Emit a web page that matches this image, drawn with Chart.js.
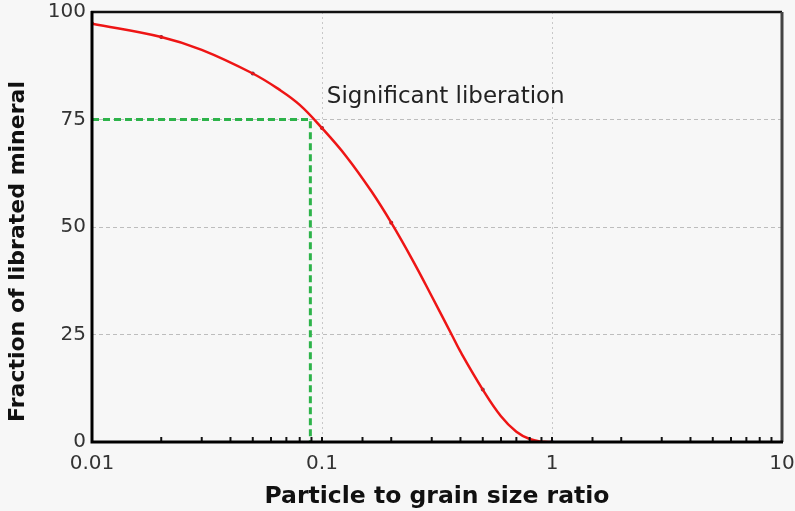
<!DOCTYPE html>
<html>
<head>
<meta charset="utf-8">
<script src="https://cdn.jsdelivr.net/npm/chart.js@4"></script>
<style>
  html, body { margin: 0; padding: 0; background: #f7f7f7; }
  canvas { display: block; }
</style>
</head>
<body>
<canvas id="liberation" width="795" height="511"></canvas>
<script>
// liberation curve, read at a set of size ratios
var curveX = [0.01, 0.02, 0.03, 0.05, 0.065, 0.08, 0.1, 0.128, 0.164, 0.2, 0.25, 0.3, 0.366, 0.4, 0.5, 0.6, 0.7, 0.8, 0.9, 1];
var curveY = [97.3, 94.2, 91.2, 85.7, 82.0, 78.4, 73.0, 66.3, 58.3, 51.0, 41.9, 33.9, 25.0, 21.0, 12.2, 6.0, 2.4, 0.7, 0.1, 0];

// measured points sitting on the curve
var pointX = [0.01, 0.02, 0.05, 0.1, 0.2, 0.5, 1];
var pointY = [97.3, 94.2, 85.7, 73.0, 51.0, 12.2, 0];

// 75% guide
var guideX = [0.01, 0.089, 0.089];
var guideY = [75, 75, 0];

var xTickLabels = [0.01, 0.1, 1, 10];
var yTicks = [0, 25, 50, 75, 100];

var FONT = '"DejaVu Sans", Verdana, sans-serif';

function toPoints(xs, ys) {
    return xs.map(function (v, i) { return {x: v, y: ys[i]}; });
}

var chartPlugin = {
    id: 'frameAndNotes',
    beforeDraw: function (chart) {
        var ctx = chart.ctx;
        ctx.save();
        ctx.fillStyle = '#f7f7f7';
        ctx.fillRect(0, 0, chart.width, chart.height);
        ctx.restore();
    },
    afterDatasetsDraw: function (chart) {
        var ctx = chart.ctx;
        var a = chart.chartArea;
        var x = chart.scales.x;
        var y = chart.scales.y;
        ctx.save();

        // small inward ticks along the bottom
        ctx.strokeStyle = '#111';
        ctx.lineWidth = 2;
        x.ticks.forEach(function (t) {
            var px = x.getPixelForValue(t.value);
            ctx.beginPath();
            ctx.moveTo(px, a.bottom);
            ctx.lineTo(px, a.bottom - 5);
            ctx.stroke();
        });

        // frame
        ctx.strokeStyle = '#111';
        ctx.lineWidth = 2.5;
        ctx.beginPath();
        ctx.moveTo(a.left - 1, a.top);
        ctx.lineTo(a.right, a.top);
        ctx.stroke();
        ctx.strokeStyle = '#444';
        ctx.lineWidth = 3;
        ctx.beginPath();
        ctx.moveTo(a.right, a.top);
        ctx.lineTo(a.right, a.bottom);
        ctx.stroke();
        ctx.strokeStyle = '#000';
        ctx.lineWidth = 3;
        ctx.beginPath();
        ctx.moveTo(a.left, a.top - 1);
        ctx.lineTo(a.left, a.bottom);
        ctx.lineTo(a.right + 1, a.bottom);
        ctx.stroke();

        // annotation
        ctx.fillStyle = '#222';
        ctx.font = '23px ' + FONT;
        ctx.textAlign = 'left';
        ctx.textBaseline = 'middle';
        ctx.fillText('Significant liberation', x.getPixelForValue(0.105), y.getPixelForValue(80.2));

        // y axis title, centred on the figure height
        ctx.translate(18, chart.height / 2 - 4);
        ctx.rotate(-Math.PI / 2);
        ctx.fillStyle = '#111';
        ctx.font = 'bold 22px ' + FONT;
        ctx.textAlign = 'center';
        ctx.fillText('Fraction of librated mineral', 0, 0);
        ctx.restore();
    }
};

Chart.defaults.font.family = FONT;

new Chart(document.getElementById('liberation'), {
    type: 'scatter',
    data: {
        datasets: [{
            label: 'Guide',
            data: toPoints(guideX, guideY),
            showLine: true,
            borderColor: '#2db34a',
            borderWidth: 3,
            borderDash: [7, 4],
            pointRadius: 0,
            fill: false
        }, {
            label: 'Liberation',
            data: toPoints(curveX, curveY),
            showLine: true,
            borderColor: '#ee1515',
            borderWidth: 2.5,
            tension: 0.4,
            pointRadius: 0,
            fill: false
        }, {
            label: 'Points',
            data: toPoints(pointX, pointY),
            showLine: false,
            pointRadius: 2,
            pointBorderWidth: 0,
            pointBackgroundColor: ['#ee1515', '#7a2030', '#5a3a60', '#7a2030', '#7a2030', '#556070', '#6a6ad0']
        }]
    },
    options: {
        responsive: false,
        animation: false,
        layout: { padding: { top: 12, right: 13, left: 0, bottom: 0 } },
        plugins: {
            legend: { display: false },
            tooltip: { enabled: false }
        },
        scales: {
            x: {
                type: 'logarithmic',
                min: 0.01,
                max: 10,
                border: { display: false, dash: [2, 3] },
                grid: {
                    drawTicks: false,
                    lineWidth: 1,
                    color: function (c) {
                        var v = c.tick && c.tick.value;
                        return (v === 0.1 || v === 1) ? '#c8c8c8' : 'rgba(0,0,0,0)';
                    }
                },
                ticks: {
                    autoSkip: false,
                    maxRotation: 0,
                    padding: 10,
                    color: '#333',
                    font: { size: 20 },
                    callback: function (v) {
                        return xTickLabels.indexOf(v) >= 0 ? String(v) : '';
                    }
                },
                title: {
                    display: true,
                    text: 'Particle to grain size ratio',
                    color: '#111',
                    font: { size: 23.5, weight: 'bold' },
                    padding: { top: 0, bottom: 0 }
                },
                afterFit: function (s) {
                    s.height = 69;
                    s.paddingLeft = 0;
                    s.paddingRight = 0;
                }
            },
            y: {
                min: 0,
                max: 100,
                border: { display: false, dash: [4, 3] },
                afterBuildTicks: function (s) {
                    s.ticks = yTicks.map(function (v) { return {value: v}; });
                },
                grid: {
                    drawTicks: false,
                    lineWidth: 1,
                    color: function (c) {
                        var v = c.tick && c.tick.value;
                        return (v > 0 && v < 100) ? '#bdbdbd' : 'rgba(0,0,0,0)';
                    }
                },
                ticks: {
                    padding: 6,
                    color: '#333',
                    font: { size: 20 }
                },
                afterFit: function (s) {
                    s.width = 92;
                    s.paddingTop = 0;
                    s.paddingBottom = 0;
                }
            }
        }
    },
    plugins: [chartPlugin]
});
</script>
</body>
</html>
